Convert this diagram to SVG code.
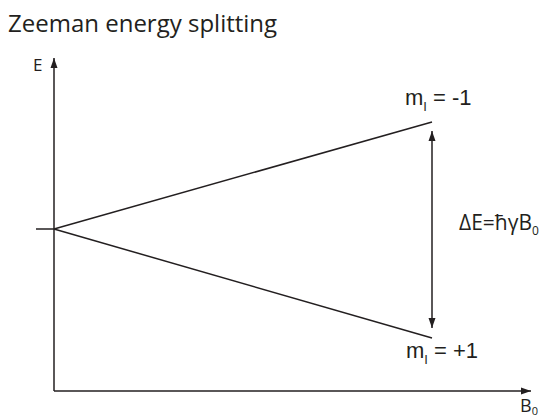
<svg xmlns="http://www.w3.org/2000/svg" width="543" height="420" viewBox="0 0 543 420">
<style>
.ln{stroke:#231f20;stroke-width:1.5;fill:none}
.t{fill:#231f20;font-family:"Open Sans","Noto Sans",sans-serif}
.h{fill:#231f20;font-family:"Liberation Sans",Arial,sans-serif}
</style>
<defs>
<marker id="ah" viewBox="0 0 10 10" refX="10" refY="5" markerWidth="10" markerHeight="10" markerUnits="userSpaceOnUse" orient="auto-start-reverse">
<path d="M0,1.5 L10,5 L0,8.5 Z" fill="#231f20"/>
</marker>
</defs>
<rect width="543" height="420" fill="#fff"/>
<text class="t" x="8" y="32" font-size="24">Zeeman energy splitting</text>
<g id="connectors">
<line id="e-axis" class="ln" x1="54" y1="391" x2="54" y2="58" marker-end="url(#ah)"/>
<line id="b-axis" class="ln" x1="54" y1="391" x2="531" y2="391" marker-end="url(#ah)"/>
<line id="tick" class="ln" x1="36" y1="229" x2="54" y2="229"/>
<line id="upper" class="ln" x1="54" y1="229" x2="432" y2="122"/>
<line id="lower" class="ln" x1="54" y1="229" x2="432" y2="338"/>
<line id="delta" class="ln" x1="432" y1="131" x2="432" y2="328" marker-start="url(#ah)" marker-end="url(#ah)"/>
</g>
<g id="label-E"><text class="t" x="33" y="71" font-size="17">E</text></g>
<g id="label-m-1"><text class="h" x="405" y="105" font-size="22">m<tspan font-size="13" dy="6">I</tspan><tspan dy="-6"> = -1</tspan></text></g>
<g id="label-m+1"><text class="h" x="406" y="358" font-size="22">m<tspan font-size="13" dy="6">I</tspan><tspan dy="-6"> = +1</tspan></text></g>
<g id="label-dE"><text class="t" x="459" y="230" font-size="21">ΔE=ħγB<tspan font-size="12" dy="5">0</tspan></text></g>
<g id="label-B0"><text class="t" x="520" y="412" font-size="18">B<tspan font-size="11" dy="3">0</tspan></text></g>
</svg>
